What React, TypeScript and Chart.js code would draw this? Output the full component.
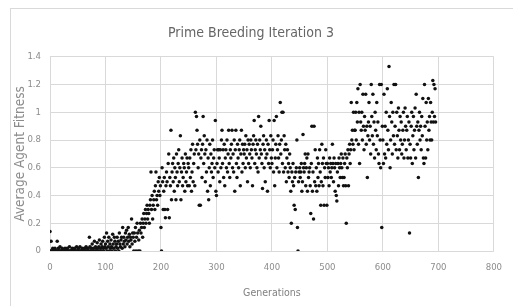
import React, { useEffect, useRef } from "react";
import { Chart, registerables } from "chart.js";

Chart.register(...registerables);

const chartTitle = "Prime Breeding Iteration 3";
const xAxisTitle = "Generations";
const yAxisTitle = "Average Agent Fitness";
const xTickLabels = ["0", "100", "200", "300", "400", "500", "600", "700", "800"];
const yTickLabels = ["0", "0.2", "0.4", "0.6", "0.8", "1", "1.2", "1.4"];

// Average fitness per generation in blocks of 50 generations
const gen000 = [0.14,0,0.07,0,0,0.02,0,0,0,0.02, 0,0,0,0.07,0,0.02,0,0,0.03,0, 0,0,0.02,0,0,0,0,0.02,0,0, 0,0.02,0,0,0,0.03,0,0,0,0, 0.02,0,0,0,0.02,0,0,0,0.03,0];
const gen050 = [0,0.02,0,0,0.03,0,0,0,0.02,0, 0,0,0.02,0,0,0.03,0,0,0.02,0, 0,0.1,0.03,0,0.02,0,0.05,0,0.02,0, 0.07,0,0.03,0.02,0,0.06,0.02,0,0.03,0.08, 0,0.02,0.05,0,0.03,0.07,0.02,0,0.1,0.03];
const gen100 = [0.05,0.02,0.13,0,0.07,0.03,0.1,0,0.05,0.02, 0.08,0.03,0,0.12,0.05,0.02,0.1,0.07,0,0.03, 0.05,0.1,0.02,0.07,0,0.13,0.05,0.03,0.08,0.1, 0.02,0.17,0.05,0.1,0.07,0.03,0.13,0.08,0.15,0.05, 0.1,0.17,0.07,0.12,0.03,0.1,0.08,0.23,0.05,0.13];
const gen150 = [0.1,0,0.13,0.07,0.17,0,0.1,0.2,0.13,0, 0.08,0.15,0,0.2,0.13,0.17,0.23,0.1,0.2,0.27, 0.17,0.23,0.3,0.2,0.27,0.33,0.23,0.3,0.27,0.2, 0.33,0.37,0.57,0.3,0.4,0.23,0.33,0.37,0.43,0.3, 0.47,0.57,0.37,0.4,0.33,0.5,0.43,0.53,0.4,0.47];
const gen200 = [0.17,0,0.6,0.5,0.3,0.43,0.53,0.3,0.24,0.47, 0.57,0.5,0.3,0.63,0.7,0.24,0.53,0.47,0.87,0.37, 0.57,0.63,0.5,0.67,0.43,0.6,0.53,0.37,0.7,0.57, 0.47,0.63,0.73,0.5,0.6,0.83,0.37,0.57,0.67,0.47, 0.53,0.63,0.6,0.43,0.7,0.5,0.57,0.67,0.47,0.63];
const gen250 = [0.6,0.47,0.67,0.53,0.73,0.43,0.57,0.77,0.5,0.63, 0.7,0.47,1.0,0.73,0.97,0.87,0.77,0.6,0.7,0.33, 0.8,0.33,0.67,0.73,0.53,0.77,0.97,0.63,0.83,0.7, 0.5,0.73,0.57,0.8,0.43,0.67,0.37,0.6,0.77,0.47, 0.7,0.57,0.63,0.8,0.53,0.67,0.73,0.6,0.94,0.43];
const gen300 = [0.4,0.63,0.73,0.57,0.73,0.67,0.5,0.73,0.6,0.8, 0.87,0.63,0.73,0.53,0.77,0.47,0.67,0.73,0.6,0.8, 0.57,0.7,0.87,0.63,0.53,0.73,0.67,0.77,0.87,0.6, 0.7,0.57,0.8,0.43,0.73,0.87,0.63,0.53,0.77,0.67, 0.6,0.73,0.8,0.47,0.7,0.87,0.57,0.77,0.63,0.73];
const gen350 = [0.7,0.77,0.6,0.83,0.67,0.73,0.5,0.8,0.63,0.77, 0.7,0.6,0.8,0.73,0.67,0.47,0.77,0.83,0.94,0.63, 0.73,0.8,0.7,0.6,0.77,0.57,0.97,0.67,0.8,0.73, 0.9,0.7,0.63,0.45,0.77,0.83,0.6,0.73,0.5,0.67, 0.8,0.7,0.43,0.77,0.63,0.94,0.73,0.6,0.83,0.67];
const gen400 = [0.63,0.73,0.8,0.57,0.94,0.47,0.67,0.77,0.97,0.6, 0.73,0.83,0.67,0.57,0.77,1.07,0.7,0.8,1.0,0.63, 1.0,0.57,0.83,0.73,0.6,0.77,0.5,0.67,0.73,0.57, 0.63,0.53,0.7,0.6,0.43,0.2,0.57,0.5,0.63,0.47, 0.33,0.53,0.3,0.57,0.6,0.8,0.17,0,0.5,0.57];
const gen450 = [0.6,0.53,0.57,0.63,0.43,0.5,0.84,0.6,0.57,0.63, 0.7,0.47,0.6,0.67,0.43,0.7,0.53,0.57,0.6,0.47, 0.27,0.63,0.9,0.43,0.57,0.23,0.9,0.5,0.73,0.47, 0.6,0.43,0.67,0.53,0.63,0.47,0.73,0.57,0.33,0.5, 0.77,0.63,0.47,0.67,0.33,0.6,0.53,0.73,0.63,0.33];
const gen500 = [0.63,0.53,0.6,0.47,0.67,0.57,0.63,0.53,0.6,0.77, 0.63,0.5,0.67,0.6,0.43,0.63,0.4,0.36,0.57,0.63, 0.47,0.67,0.6,0.53,0.63,0.7,0.6,0.53,0.67,0.47, 0.53,0.63,0.7,0.47,0.2,0.67,0.6,0.73,0.47,0.7, 0.77,0.63,0.73,1.07,0.8,0.87,0.77,1.0,0.73,0.87];
const gen550 = [0.87,1.0,0.8,1.07,0.93,1.17,0.77,1.0,0.63,1.2, 0.93,0.87,1.0,0.8,1.13,0.9,0.73,0.97,0.87,1.13, 0.77,0.9,0.53,0.83,0.93,1.07,0.8,0.9,0.7,1.2, 0.97,0.83,1.13,0.77,0.93,0.67,1.0,0.87,0.73,1.07, 0.83,0.93,0.7,0.63,1.2,0.8,0.6,1.2,0.17,0.9];
const gen600 = [0.8,0.63,1.13,0.7,0.9,0.67,1.0,0.77,1.17,0.87, 0.73,1.33,0.97,0.6,0.8,1.07,0.93,0.7,1.0,0.83, 1.2,0.77,0.9,1.2,0.73,1.0,0.83,0.67,1.03,0.87, 0.73,0.97,0.8,0.93,0.7,0.77,0.87,1.0,0.67,0.8, 1.03,0.9,0.73,0.87,0.97,0.67,0.8,0.93,0.13,0.77];
const gen650 = [0.67,0.9,1.0,0.63,0.83,0.97,0.73,0.87,1.03,0.67, 1.13,0.9,0.77,0.93,0.53,0.87,1.0,0.8,0.9,0.73, 0.97,0.83,1.1,0.67,0.63,1.2,0.9,0.67,1.07,0.8, 0.93,0.73,1.1,0.87,0.97,0.8,1.07,0.93,0.8,1.0, 1.23,0.93,1.2,0.97,1.17,0.93];

const fitness = [
  ...gen000, ...gen050, ...gen100, ...gen150, ...gen200, ...gen250, ...gen300,
  ...gen350, ...gen400, ...gen450, ...gen500, ...gen550, ...gen600, ...gen650,
];

const FONT = "'Liberation Sans Narrow', 'DejaVu Sans Condensed', Arial, sans-serif";

export default function App() {
  const ref = useRef<HTMLCanvasElement>(null);

  useEffect(() => {
    document.body.style.margin = "0";
    const points = fitness.map((v, i) => ({ x: i, y: v }));
    const chart = new Chart(ref.current as HTMLCanvasElement, {
      type: "scatter",
      data: {
        datasets: [
          {
            data: points,
            backgroundColor: "#111111",
            borderColor: "#111111",
            pointRadius: 1.75,
            pointBorderWidth: 0,
            pointStyle: "circle",
          },
        ],
      },
      options: {
        responsive: false,
        animation: false,
        layout: { padding: { left: 0, right: 11, top: 0, bottom: 0 } },
        plugins: {
          legend: { display: false },
          tooltip: { enabled: false },
          title: {
            display: true,
            text: chartTitle,
            color: "#666666",
            font: { family: FONT, size: 14, weight: "normal" },
            padding: { top: 25, bottom: 15 },
          },
        },
        scales: {
          x: {
            type: "linear",
            min: 0,
            max: 800,
            ticks: {
              stepSize: 100,
              color: "#8c8c8c",
              font: { family: FONT, size: 9.5 },
              padding: 11,
              callback: (v: any) => xTickLabels[Math.round(Number(v) / 100)] ?? "",
            },
            grid: { color: "#d9d9d9", drawTicks: false },
            border: { display: false },
            title: {
              display: true,
              text: xAxisTitle,
              color: "#808080",
              font: { family: FONT, size: 10.5 },
              padding: { top: 0, bottom: 6 },
            },
            afterFit: (s: any) => {
              s.height = 55;
            },
          },
          y: {
            type: "linear",
            min: 0,
            max: 1.4,
            ticks: {
              stepSize: 0.2,
              color: "#8c8c8c",
              font: { family: FONT, size: 9.5 },
              padding: 9,
              callback: (v: any) => yTickLabels[Math.round(Number(v) / 0.2)] ?? "",
            },
            grid: { color: "#d9d9d9", drawTicks: false },
            border: { display: false },
            title: {
              display: true,
              text: yAxisTitle,
              color: "#8c8c8c",
              font: { family: FONT, size: 13.5 },
              padding: { top: 12, bottom: 0 },
            },
            afterFit: (s: any) => {
              s.width = 50;
            },
          },
        },
      },
    });
    return () => chart.destroy();
  }, []);

  return (
    <div style={{ position: "relative", width: 513, height: 306, background: "#ffffff", overflow: "hidden" }}>
      <div
        style={{
          position: "absolute",
          left: 10,
          top: 8,
          width: 600,
          height: 400,
          borderLeft: "1px solid #d9d9d9",
          borderTop: "1px solid #d9d9d9",
        }}
      />
      <canvas ref={ref} width={513} height={306} style={{ position: "absolute", left: 0, top: 0 }} />
    </div>
  );
}
